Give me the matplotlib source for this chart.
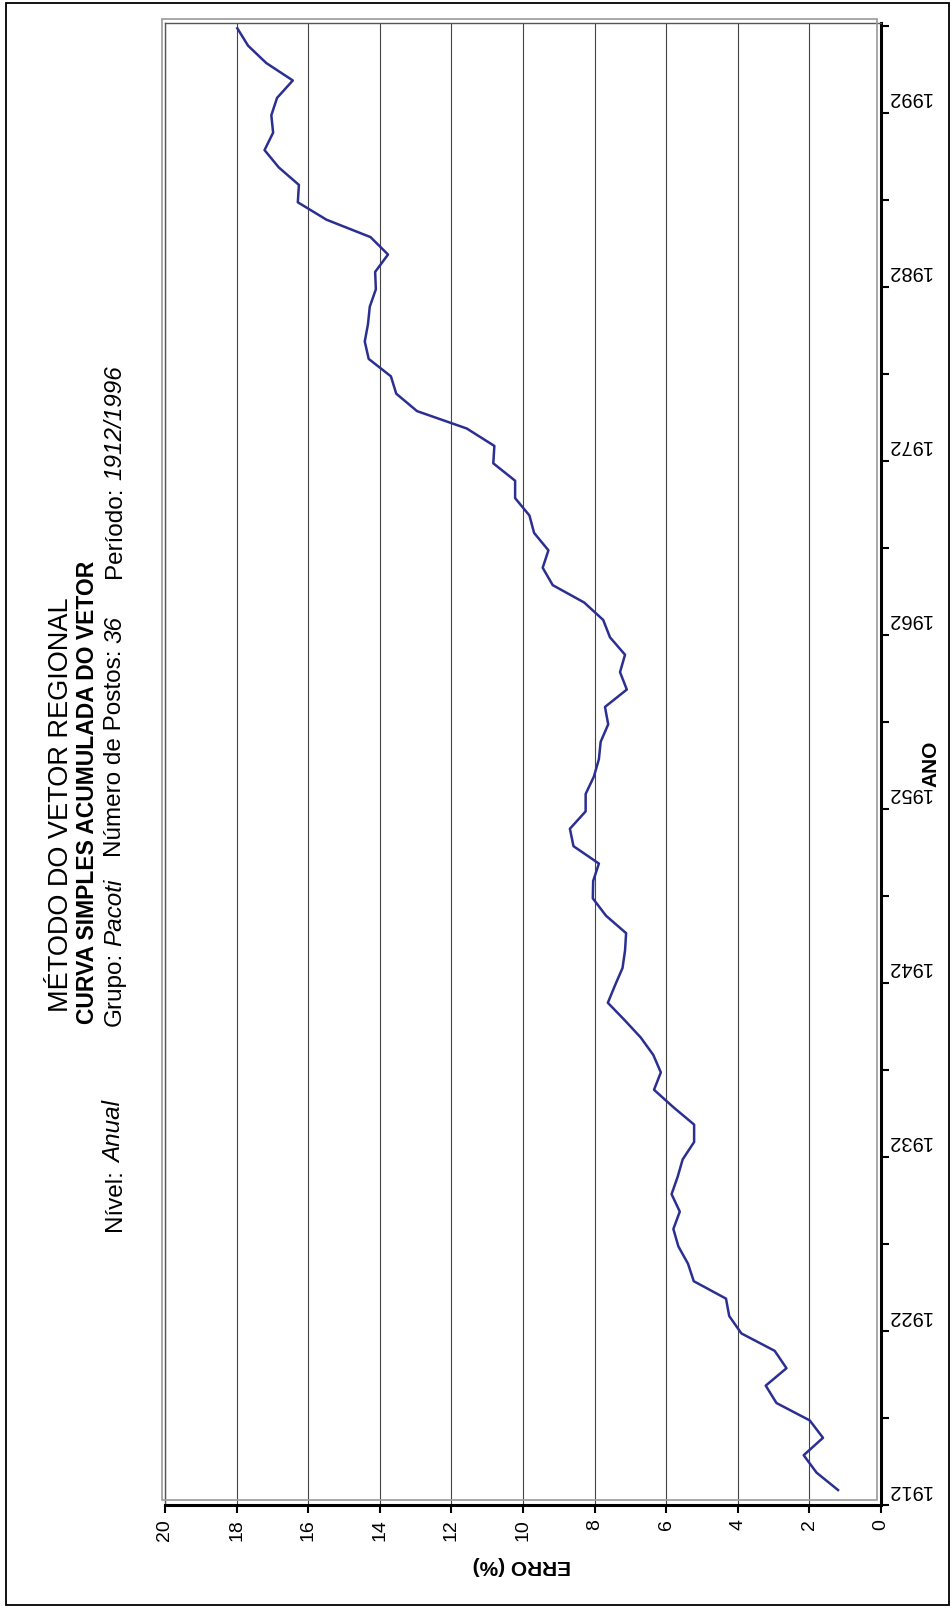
import matplotlib
matplotlib.use("Agg")
import numpy as np
import matplotlib.pyplot as plt
from matplotlib.patches import Rectangle

plt.rcParams['font.family'] = ['Liberation Sans', 'DejaVu Sans']

# dados (erro acumulado em %, um valor por ano)
anos = np.arange(1912, 1997)
erro = [1.20, 1.80, 2.16, 1.62, 1.99, 2.92, 3.22, 2.64, 2.97, 3.90,
        4.24, 4.33, 5.23, 5.39, 5.66, 5.80, 5.62, 5.85, 5.68, 5.54,
        5.22, 5.22, 5.80, 6.34, 6.15, 6.36, 6.71, 7.16, 7.63, 7.43,
        7.22, 7.15, 7.12, 7.68, 8.05, 8.04, 7.88, 8.59, 8.69, 8.25,
        8.25, 8.02, 7.88, 7.83, 7.62, 7.71, 7.10, 7.29, 7.15, 7.57,
        7.76, 8.29, 9.17, 9.45, 9.29, 9.69, 9.82, 10.22, 10.22, 10.83,
        10.80, 11.57, 12.96, 13.54, 13.69, 14.31, 14.42, 14.33, 14.28, 14.11,
        14.13, 13.77, 14.26, 15.49, 16.29, 16.26, 16.82, 17.22, 16.98, 17.03,
        16.87, 16.43, 17.17, 17.68, 17.98]
erro_ticks = np.arange(0, 21, 2)
anos_rotulos = np.arange(1912, 1993, 10)

titulo1 = "MÉTODO DO VETOR REGIONAL"
titulo2 = "CURVA SIMPLES ACUMULADA DO VETOR"
grupos = [[("Nível:", "normal"), ("Anual", "italic")],
          [("Grupo:", "normal"), ("Pacoti", "italic")],
          [("Número de Postos:", "normal"), ("36", "italic")],
          [("Período:", "normal"), ("1912/1996", "italic")]]
inicio_grupos = [1231, 1026, 857, 578]

W, H = 953, 1609
fig = plt.figure(figsize=(W / 100, H / 100), dpi=100)


def fx(px):
    return px / W


def fy(py):
    return 1 - py / H


# moldura externa
fig.patches.append(Rectangle((fx(6), fy(1605)), fx(943), 1602 / H, transform=fig.transFigure,
                             fill=False, ec='black', lw=1.3))
# borda cinza da area de plotagem
fig.patches.append(Rectangle((fx(161.7), fy(1500)), fx(877.3 - 161.7), (1500 - 19) / H,
                             transform=fig.transFigure, fill=False, ec='#9a9a9a', lw=1.2))

ax_l, ax_r, ax_t, ax_b = 165, 881, 22.7, 1505
ax = fig.add_axes([fx(ax_l), fy(ax_b), fx(ax_r - ax_l), (ax_b - ax_t) / H])
ax.patch.set_alpha(0)

ax.plot(erro, anos, color='#2b2f91', lw=1.8, zorder=3)
ax.set_xlim(20, 0)
ax.set_ylim(1911.14, 1996.32)

ax.set_xticks(erro_ticks)
ax.xaxis.grid(True, color='#444444', lw=0.8)
ax.set_axisbelow(True)
ax.tick_params(axis='x', direction='out', length=6, width=1.5, labelsize=14, pad=4)
for t in ax.get_xticklabels():
    t.set_rotation(90)
    t.set_va('top')

ax.yaxis.tick_right()
ax.set_yticks(anos_rotulos)
ax.set_yticks(1911.14 + 5 * np.arange(18), minor=True)
ax.tick_params(axis='y', which='major', length=0, labelsize=14.5, pad=4)
ax.tick_params(axis='y', which='minor', direction='out', length=6, width=1.5)
for t in ax.get_yticklabels():
    t.set_rotation(180)
    t.set_va('center')

for s in ['left', 'top']:
    ax.spines[s].set_color('#555555')
    ax.spines[s].set_linewidth(1)
for s in ['right', 'bottom']:
    ax.spines[s].set_color('black')
    ax.spines[s].set_linewidth(2.2)

fig.text(fx(522), fy(1566), "ERRO (%)", rotation=180, ha='center', va='center',
         fontsize=15, fontweight='bold')
fig.text(fx(931), fy(764), "ANO", rotation=90, ha='center', va='center',
         fontsize=15, fontweight='bold')

fig.text(fx(61.5), fy(805), titulo1, rotation=90, ha='center', va='center', fontsize=19.5)
fig.text(fx(87.5), fy(792), titulo2, rotation=90, ha='center', va='center', fontsize=16.5,
         fontweight='bold')

# terceira linha com partes em italico
r = fig.canvas.get_renderer()
tam = 17.5
espaco = 0.25 * tam * 100 / 72
for grupo, y0 in zip(grupos, inicio_grupos):
    y = y0
    for txt, estilo in grupo:
        t = fig.text(fx(121), fy(y), txt, rotation=90, rotation_mode='anchor', ha='left',
                     va='baseline', fontsize=tam, style=estilo)
        bb = t.get_window_extent(r)
        y = y - bb.height - espaco

fig.savefig("out.png", dpi=100)
